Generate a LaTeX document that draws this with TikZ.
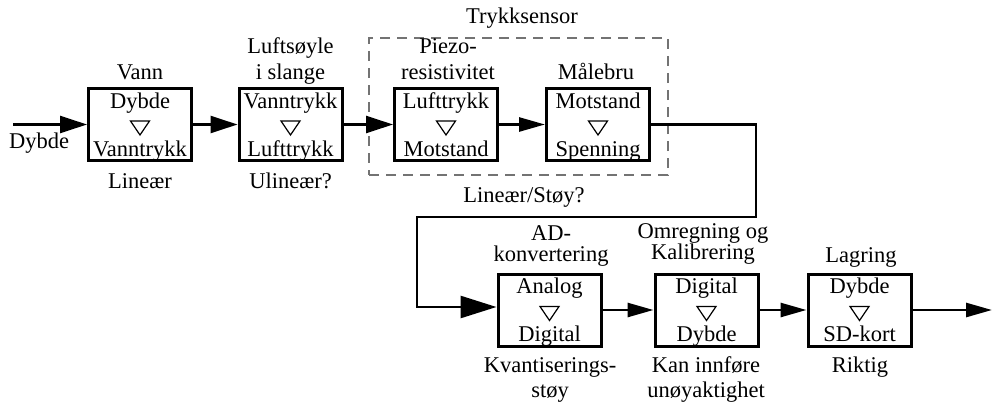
\documentclass[tikz,border=0pt]{standalone}
\usepackage{fontspec}
\setmainfont{Liberation Serif}
\usetikzlibrary{arrows.meta}
\begin{document}
\begin{tikzpicture}[x=1pt,y=-1pt,
  every node/.style={font=\fontsize{22.5}{27}\selectfont, inner sep=0pt},
  blk/.style={draw, line width=3pt, minimum width=103pt, minimum height=72pt},
  conn/.style={line width=2.7pt, line join=miter},
  bigtip/.style={-{Triangle[length=27pt,width=17pt]}},
  smalltip/.style={-{Triangle[length=26pt,width=14pt]}},
  txt/.style={anchor=base, align=center},
  tight/.style={font=\fontsize{22.5}{21}\selectfont},
  loose/.style={font=\fontsize{22.5}{24.5}\selectfont},
  tri/.style={line width=1.2pt, line join=miter},
  frame/.style={draw=black!55, dash pattern=on 10pt off 7pt, line width=1.3pt}
]
\useasboundingbox (0,0) rectangle (993,404);

% pressure sensor frame
\node[frame, minimum width=299pt, minimum height=137pt] (sensor) at (518.5,106.5) {};
\node[txt] (sensorlbl) at (522,24) {Trykksensor};

% blocks, upper row
\node[blk] (b1) at (140,124.5) {};
\node[blk] (b2) at (290.5,124.5) {};
\node[blk] (b3) at (446,124.5) {};
\node[blk] (b4) at (598,124.5) {};
% blocks, lower row
\node[blk] (b5) at (549.5,310) {};
\node[blk] (b6) at (706.5,310) {};
\node[blk] (b7) at (859.5,310) {};

% block contents: input, down triangle, output
\newcommand\blockio[3]{%
  \node[txt] (#1in) at ([yshift=-21pt]#1.north) {#2};
  \draw[tri] ([xshift=-9.5pt,yshift=-34pt]#1.north) -- ([xshift=9.5pt,yshift=-34pt]#1.north)
     -- ([yshift=-48pt]#1.north) -- cycle;
  \node[txt] (#1out) at ([yshift=-69pt]#1.north) {#3};}
\blockio{b1}{Dybde}{Vanntrykk}
\blockio{b2}{Vanntrykk}{Lufttrykk}
\blockio{b3}{Lufttrykk}{Motstand}
\blockio{b4}{Motstand}{Spenning}
\blockio{b5}{Analog}{Digital}
\blockio{b6}{Digital}{Dybde}
\blockio{b7}{Dybde}{SD-kort}

% titles above the blocks (base = baseline of the last line)
\node[txt] (t1) at (140,80) {Vann};
\node[txt] (t2) at (290.5,80) {Luftsøyle\\i slange};
\node[txt] (t3) at (448,80) {Piezo-\\resistivitet};
\node[txt] (t4) at (596,80) {Målebru};
\node[txt, tight] (t5) at (551,261) {AD-\\konvertering};
\node[txt, tight] (t6) at (703,259) {Omregning og\\Kalibrering};
\node[txt] (t7) at (861,262) {Lagring};

% remarks below the blocks
\node[txt] (r1) at (140,188) {Lineær};
\node[txt] (r2) at (290.5,188) {Ulineær?};
\node[txt] (r3) at (524,202) {Lineær/Støy?};
\node[txt, loose] (r5) at (550,397) {Kvantiserings-\\støy};
\node[txt, loose] (r6) at (706,397) {Kan innføre\\unøyaktighet};
\node[txt] (r7) at (860,372) {Riktig};

% signal path
\coordinate (in) at (13,124.5);
\coordinate (turnA) at (756,217);
\coordinate (turnB) at (417,217);
\coordinate (out) at (992,310);
\node[txt] (inlbl) at (39,148) {Dybde};

\draw[conn, bigtip] (in) -- (b1.west);
\draw[conn, bigtip] (b1.east) -- (b2.west);
\draw[conn, bigtip] (b2.east) -- (b3.west);
\draw[conn, smalltip] (b3.east) -- (b4.west);
\draw[conn, -{Triangle[length=36pt,width=22pt]}]
  (b4.east) -| (turnA) -- (turnB) |- ([yshift=3pt]b5.west);
\draw[conn, smalltip] (b5.east) -- (b6.west);
\draw[conn, smalltip] (b6.east) -- (b7.west);
\draw[conn, smalltip] (b7.east) -- (out);
\end{tikzpicture}
\end{document}
